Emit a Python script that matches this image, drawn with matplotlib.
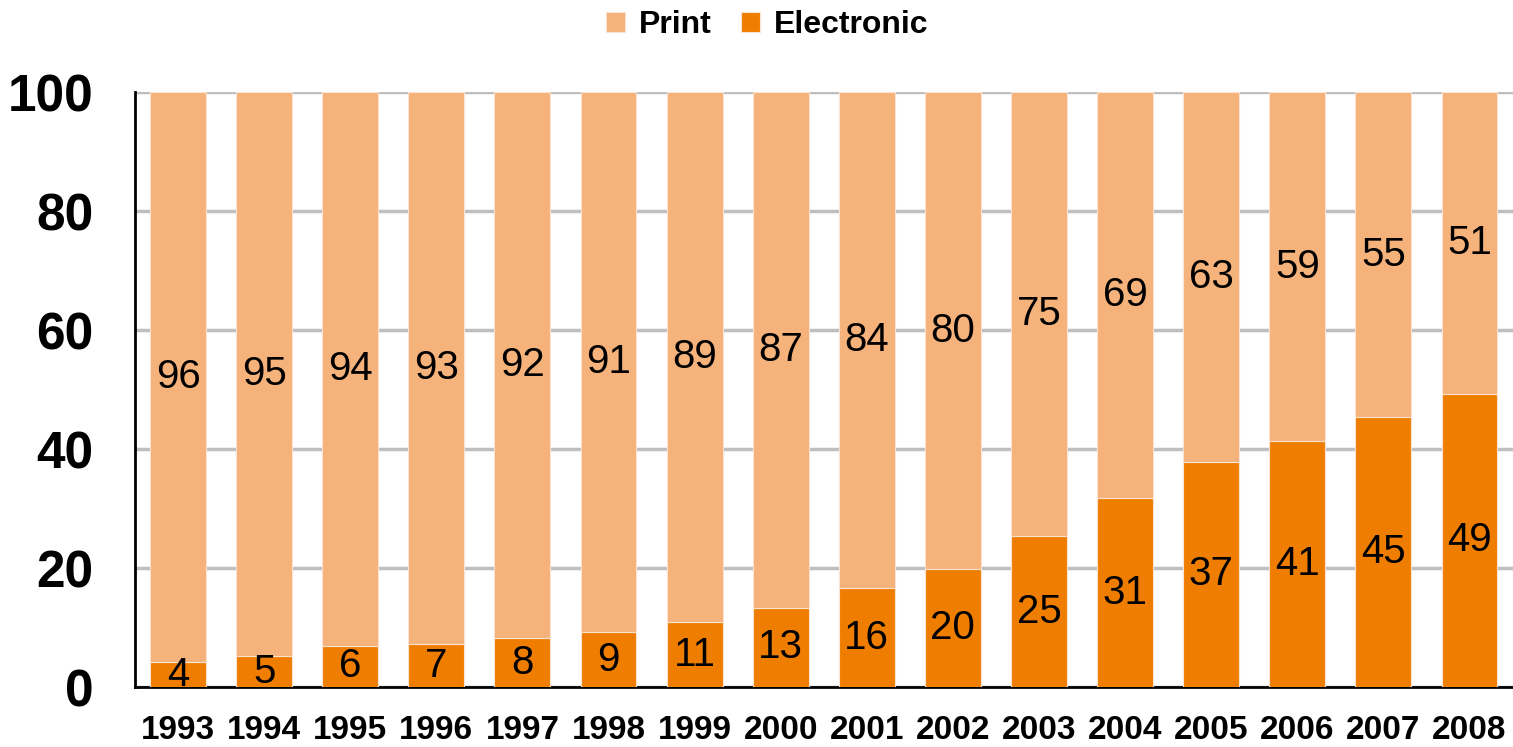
import matplotlib
matplotlib.use("Agg")
import matplotlib.pyplot as plt
import numpy as np

years = ["1993", "1994", "1995", "1996", "1997", "1998", "1999", "2000",
         "2001", "2002", "2003", "2004", "2005", "2006", "2007", "2008"]
# bar heights as drawn (percent)
electronic = [4.2, 5.2, 6.9, 7.2, 8.2, 9.2, 10.9, 13.3, 16.6, 19.8, 25.3, 31.7, 37.9, 41.3, 45.3, 49.3]
print_share = [100 - e for e in electronic]
# printed data labels
electronic_labels = [4, 5, 6, 7, 8, 9, 11, 13, 16, 20, 25, 31, 37, 41, 45, 49]
print_labels = [96, 95, 94, 93, 92, 91, 89, 87, 84, 80, 75, 69, 63, 59, 55, 51]
yticks = [0, 20, 40, 60, 80, 100]

c_print = "#F5B27B"
c_elec = "#EE7D00"

plt.rcParams['font.family'] = ['Liberation Sans', 'DejaVu Sans']

fig = plt.figure(figsize=(15.13, 7.47), dpi=100)
ax = fig.add_axes([0.0892, 0.0803, 0.9105, 0.7965])

x = np.arange(len(years))
w = 0.65
b1 = ax.bar(x, electronic, w, color=c_elec, edgecolor="#FBE3CF", linewidth=0.8, label="Electronic", zorder=3)
b2 = ax.bar(x, print_share, w, bottom=electronic, color=c_print, edgecolor="#FBE3CF", linewidth=0.8, label="Print", zorder=3)

for xi, e, p, el, pl in zip(x, electronic, print_share, electronic_labels, print_labels):
    ax.text(xi, e / 2, str(el), ha="center", va="center", fontsize=29, color="black", zorder=4)
    ax.text(xi, e + p / 2, str(pl), ha="center", va="center", fontsize=29, color="black", zorder=4)

ax.set_xlim(-0.5, len(years) - 0.5)
ax.set_ylim(0, 100)
ax.set_yticks(yticks)
ax.set_yticklabels([str(t) for t in yticks], fontsize=37, fontweight="bold")
ax.set_xticks(x)
ax.set_xticklabels(years, fontsize=24, fontweight="bold")
ax.tick_params(axis="both", length=0)
ax.tick_params(axis="y", pad=30)
ax.tick_params(axis="x", pad=20)

ax.yaxis.grid(True, color="#BFBFBF", linewidth=2.5, zorder=0)
ax.set_axisbelow(True)
for s in ["top", "right"]:
    ax.spines[s].set_visible(False)
ax.spines["left"].set_linewidth(2)
ax.spines["bottom"].set_linewidth(2)

handles = [b2, b1]
leg = fig.legend(handles, ["Print", "Electronic"], loc="upper center", bbox_to_anchor=(0.507, 1.025),
                 ncol=2, frameon=False, prop={"weight": "bold", "size": 23},
                 handlelength=0.6, handleheight=0.6, handletextpad=0.45, columnspacing=0.9)

fig.savefig("out.png", dpi=100)
